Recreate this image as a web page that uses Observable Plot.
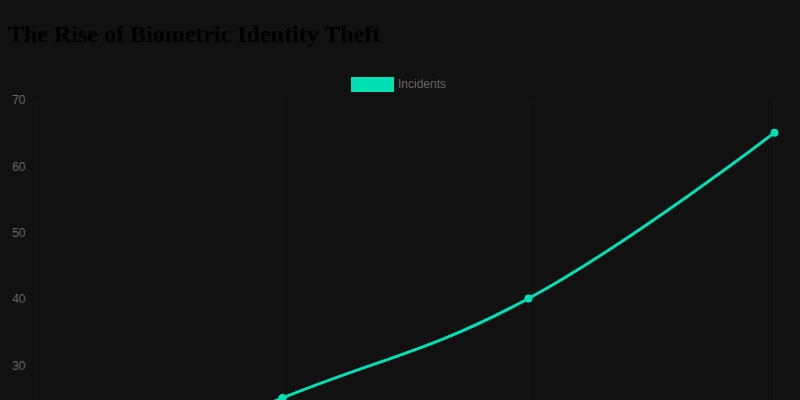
<!DOCTYPE html>
<html>
<head>
<meta charset="utf-8">
<script src="https://cdn.jsdelivr.net/npm/d3@7"></script>
<script src="https://cdn.jsdelivr.net/npm/@observablehq/plot@0.6"></script>
<style>
  html, body { margin: 0; padding: 0; background: #111111; width: 800px; height: 400px; overflow: hidden; }
  #title { font-family: "Liberation Serif", "Times New Roman", serif; font-weight: bold; font-size: 24px; line-height: 24px; color: #000; padding: 22px 0 0 8px; height: 24px; white-space: nowrap; }
  #legend { height: 40px; position: relative; font-family: "Liberation Sans", Arial, Helvetica, sans-serif; font-size: 12px; color: #666; }
  #legend .box { position: absolute; left: 351px; top: 31px; width: 43px; height: 15px; background: #00e0b4; }
  #legend .lab { position: absolute; left: 398px; top: 30px; line-height: 17px; }
  svg { display: block; }
</style>
</head>
<body>
<div id="title">The Rise of Biometric Identity Theft</div>
<div id="legend"><span class="box"></span><span class="lab">Incidents</span></div>
<div id="chart"></div>
<script>
const years = ["2020", "2021", "2022", "2023"];
const incidents = [10, 25, 40, 65];
const yTicks = [10, 20, 30, 40, 50, 60, 70];

const data = years.map((y, i) => ({year: y, value: incidents[i]}));
const color = "#00e0b4";

const chart = Plot.plot({
  width: 800,
  height: 451,
  marginTop: 13,
  marginLeft: 35,
  marginRight: 25,
  marginBottom: 40,
  style: {background: "#111111", color: "#666", fontFamily: "'Liberation Sans', Arial, Helvetica, sans-serif", fontSize: "12px"},
  x: {type: "point", domain: years, padding: 0, label: null},
  y: {domain: [10, 70], label: null},
  marks: [
    Plot.ruleX(years, {stroke: "#191919", strokeWidth: 1}),
    Plot.axisY({ticks: yTicks, tickSize: 0, tickPadding: 10, fill: "#666", fontSize: 12, label: null, dy: 1}),
    Plot.axisX({tickSize: 0, tickPadding: 10, fill: "#666", fontSize: 12, label: null}),
    Plot.line(data, {x: "year", y: "value", stroke: color, strokeWidth: 3, curve: "cardinal", tension: -0.2}),
    Plot.dot(data, {x: "year", y: "value", fill: color, r: 4})
  ]
});
document.getElementById("chart").appendChild(chart);
</script>
</body>
</html>
